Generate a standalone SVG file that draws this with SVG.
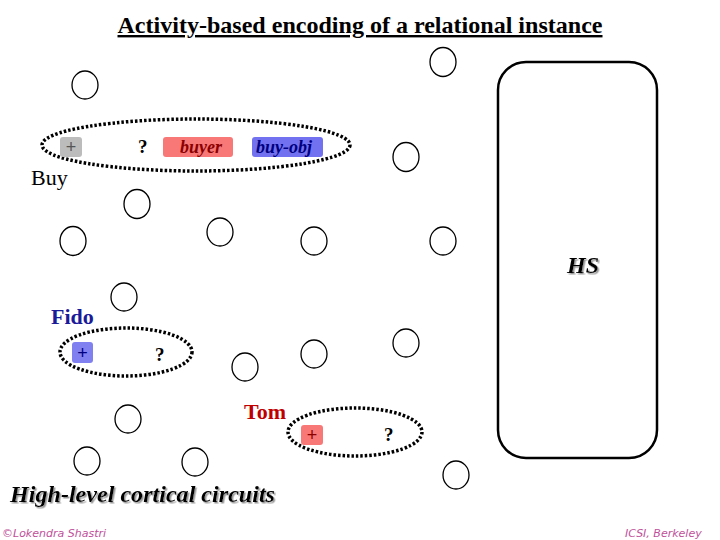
<svg xmlns="http://www.w3.org/2000/svg" width="720" height="540" viewBox="0 0 720 540">
<defs>
<style>
.n{fill:#fff;stroke:#000;stroke-width:1.3}
.grp{fill:none;stroke:#000;stroke-width:3.5;stroke-dasharray:2.5 2}
.t{font-family:"Liberation Serif",serif}
.lbl{font-family:"Liberation Serif",serif;font-weight:bold;font-style:italic;font-size:18px}
.q{font-family:"Liberation Serif",serif;font-weight:bold;font-size:19px;fill:#000}
.plus{font-family:"Liberation Sans",sans-serif;font-size:18px;text-anchor:middle}
.foot{font-family:"Comic Sans MS","DejaVu Sans",sans-serif;font-style:italic;font-size:11px;fill:#c0509a}
</style>
<filter id="sh" x="-5%" y="-20%" width="115%" height="150%">
<feDropShadow dx="1.5" dy="1.5" stdDeviation="0.3" flood-color="#999"/>
</filter>
</defs>

<text class="t" x="360" y="33" text-anchor="middle" font-size="24" font-weight="bold" text-decoration="underline" textLength="485" lengthAdjust="spacingAndGlyphs">Activity-based encoding of a relational instance</text>

<g id="nodes">
<ellipse id="c1" class="n" cx="85" cy="85" rx="13" ry="14"/>
<ellipse id="c2" class="n" cx="443" cy="62" rx="13" ry="14.5"/>
<ellipse id="c3" class="n" cx="406" cy="157" rx="13" ry="14.5"/>
<ellipse id="c4" class="n" cx="137" cy="204" rx="13" ry="14.5"/>
<ellipse id="c5" class="n" cx="73" cy="241" rx="13" ry="14.5"/>
<ellipse id="c6" class="n" cx="220" cy="232" rx="13" ry="14"/>
<ellipse id="c7" class="n" cx="314" cy="241" rx="13" ry="14"/>
<ellipse id="c8" class="n" cx="443" cy="241" rx="13" ry="14"/>
<ellipse id="c9" class="n" cx="124" cy="297" rx="13" ry="14"/>
<ellipse id="c10" class="n" cx="406" cy="343" rx="13" ry="14"/>
<ellipse id="c11" class="n" cx="314" cy="354" rx="13" ry="14"/>
<ellipse id="c12" class="n" cx="245" cy="367" rx="13" ry="14"/>
<ellipse id="c13" class="n" cx="128" cy="419" rx="13" ry="14"/>
<ellipse id="c14" class="n" cx="87" cy="461" rx="13" ry="14"/>
<ellipse id="c15" class="n" cx="195" cy="462" rx="13" ry="14"/>
<ellipse id="c16" class="n" cx="456" cy="475" rx="13" ry="14"/>
</g>

<g id="hs">
<rect x="498" y="62" width="159" height="396" rx="28" ry="28" fill="#fff" stroke="#000" stroke-width="2.5"/>
<text class="t" x="583" y="273" text-anchor="middle" font-size="24" font-weight="bold" font-style="italic" filter="url(#sh)">HS</text>
</g>

<g id="buy">
<ellipse class="grp" cx="196" cy="145" rx="154" ry="26"/>
<rect x="60" y="137" width="22" height="20" rx="3" fill="#bcbcbc"/>
<text class="plus" x="71" y="153" fill="#555">+</text>
<text class="q" x="138" y="153">?</text>
<rect x="163" y="137" width="70" height="20" rx="3" fill="#f87878"/>
<text class="lbl" x="180" y="153" fill="#8b0000">buyer</text>
<rect x="252" y="137" width="71" height="20" rx="3" fill="#7272f0"/>
<text class="lbl" x="256" y="153" fill="#000080">buy-obj</text>
<text class="t" x="31" y="185" font-size="22">Buy</text>
</g>

<g id="fido">
<text class="t" x="51" y="324" font-size="22" font-weight="bold" fill="#1a1a9a">Fido</text>
<ellipse class="grp" cx="126" cy="352" rx="66" ry="24"/>
<rect x="72" y="342" width="21" height="21" rx="3" fill="#8080f0"/>
<text class="plus" x="82.5" y="359" fill="#000080">+</text>
<text class="q" x="155" y="361">?</text>
</g>

<g id="tom">
<text class="t" x="244" y="419" font-size="22" font-weight="bold" fill="#c00000">Tom</text>
<ellipse class="grp" cx="355" cy="432" rx="67" ry="24"/>
<rect x="301" y="425" width="22" height="20" rx="3" fill="#f87878"/>
<text class="plus" x="312" y="441" fill="#8b0000">+</text>
<text class="q" x="384" y="441">?</text>
</g>

<text class="t" x="10" y="502" font-size="23" font-weight="bold" font-style="italic" filter="url(#sh)" textLength="265" lengthAdjust="spacingAndGlyphs">High-level cortical circuits</text>
<text class="foot" x="2" y="537">©Lokendra Shastri</text>
<text class="foot" x="625" y="537">ICSI, Berkeley</text>
</svg>
